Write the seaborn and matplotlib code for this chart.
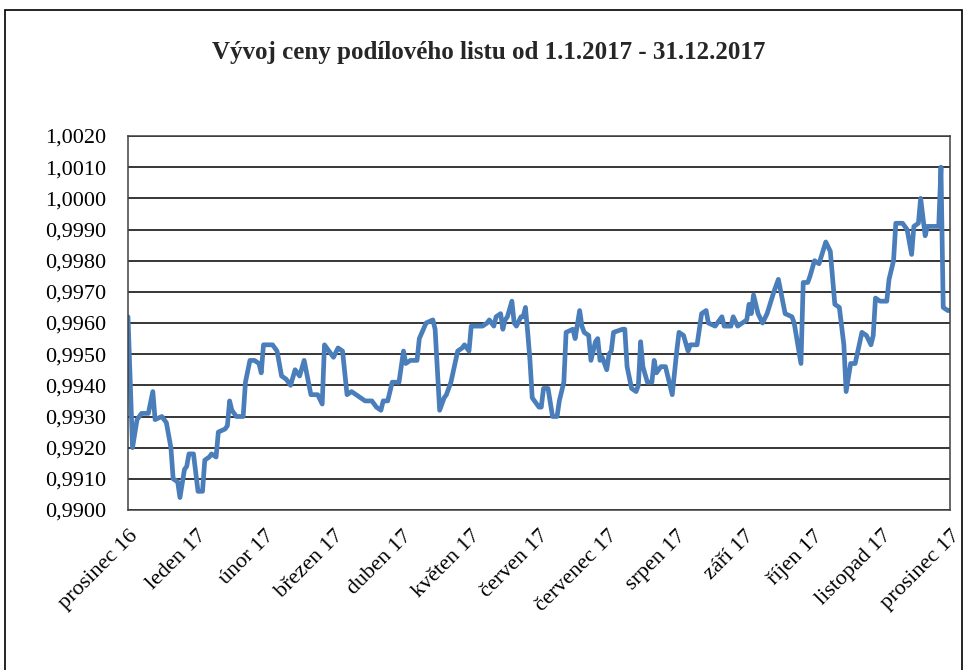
import numpy as np
import pandas as pd
import seaborn as sns
import matplotlib.pyplot as plt
from matplotlib import ticker
from matplotlib.patches import Rectangle

# day of year 2017 (0 = 1.1.2017) and unit price
days = [0, 2, 4, 6, 9, 11, 12, 15, 17, 19, 20, 22, 23, 25, 26, 27, 29, 31, 33, 34,
        36, 37, 39, 40, 43, 44, 45, 46, 48, 51, 52, 54, 56, 58, 59, 60, 64, 66, 68, 70,
        72, 74, 76, 78, 81, 84, 86, 87, 89, 91, 93, 95, 97, 99, 101, 103, 105, 108, 110, 112,
        113, 115, 116, 117, 120, 122, 123, 125, 128, 129, 132, 135, 136, 138, 140, 141, 143, 146, 148, 149,
        151, 152, 155, 157, 159, 160, 162, 163, 165, 166, 167, 168, 170, 171, 172, 174, 175, 176, 177, 178,
        179, 182, 183, 184, 186, 188, 190, 191, 193, 194, 197, 198, 200, 201, 202, 204, 205, 207, 208, 209,
        210, 212, 213, 214, 215, 219, 220, 221, 223, 225, 226, 227, 228, 230, 232, 233, 234, 236, 238, 239,
        241, 243, 244, 246, 248, 249, 252, 254, 256, 257, 260, 263, 264, 267, 268, 270, 272, 274, 275, 276,
        277, 279, 281, 283, 286, 288, 291, 294, 295, 298, 299, 301, 302, 304, 306, 309, 311, 313, 315, 317,
        318, 320, 322, 325, 327, 329, 330, 331, 333, 336, 337, 339, 340, 343, 345, 347, 348, 350, 351, 353,
        354, 359, 360, 361, 363, 364]
price = [0.9962, 0.9920, 0.9929, 0.9931, 0.9931, 0.9938, 0.9929, 0.9930, 0.9928, 0.9920,
         0.9910, 0.9909, 0.9904, 0.9913, 0.9914, 0.9918, 0.9918, 0.9906, 0.9906, 0.9916,
         0.9917, 0.9918, 0.9917, 0.9925, 0.9926, 0.9927, 0.9935, 0.9932, 0.9930, 0.9930,
         0.9941, 0.9948, 0.9948, 0.9947, 0.9944, 0.9953, 0.9953, 0.9951, 0.9943, 0.9942,
         0.9940, 0.9945, 0.9943, 0.9948, 0.9937, 0.9937, 0.9934, 0.9953, 0.9951, 0.9949,
         0.9952, 0.9951, 0.9937, 0.9938, 0.9937, 0.9936, 0.9935, 0.9935, 0.9933, 0.9932,
         0.9935, 0.9935, 0.9938, 0.9941, 0.9941, 0.9951, 0.9947, 0.9948, 0.9948, 0.9955,
         0.9960, 0.9961, 0.9958, 0.9932, 0.9936, 0.9937, 0.9941, 0.9951, 0.9952, 0.9953,
         0.9951, 0.9959, 0.9959, 0.9959, 0.9960, 0.9961, 0.9959, 0.9962, 0.9963, 0.9958,
         0.9961, 0.9962, 0.9967, 0.9960, 0.9959, 0.9962, 0.9962, 0.9965, 0.9957, 0.9948,
         0.9936, 0.9933, 0.9933, 0.9939, 0.9939, 0.9930, 0.9930, 0.9935, 0.9941, 0.9957,
         0.9958, 0.9955, 0.9964, 0.9959, 0.9957, 0.9956, 0.9948, 0.9954, 0.9955, 0.9948,
         0.9949, 0.9945, 0.9950, 0.9951, 0.9957, 0.9958, 0.9958, 0.9946, 0.9939, 0.9938,
         0.9940, 0.9954, 0.9946, 0.9941, 0.9941, 0.9948, 0.9944, 0.9946, 0.9946, 0.9943,
         0.9937, 0.9951, 0.9957, 0.9956, 0.9951, 0.9953, 0.9953, 0.9963, 0.9964, 0.9960,
         0.9959, 0.9962, 0.9959, 0.9959, 0.9962, 0.9959, 0.9960, 0.9961, 0.9966, 0.9963,
         0.9969, 0.9963, 0.9960, 0.9963, 0.9970, 0.9974, 0.9963, 0.9962, 0.9960, 0.9947,
         0.9973, 0.9973, 0.9975, 0.9980, 0.9979, 0.9986, 0.9983, 0.9966, 0.9965, 0.9953,
         0.9938, 0.9947, 0.9947, 0.9957, 0.9956, 0.9953, 0.9956, 0.9968, 0.9967, 0.9967,
         0.9974, 0.9980, 0.9992, 0.9992, 0.9990, 0.9982, 0.9991, 0.9992, 1.0000, 0.9988,
         0.9991, 0.9991, 1.0010, 0.9965, 0.9964, 0.9964]

month_labels = ['prosinec 16', 'leden 17', 'únor 17', 'březen 17', 'duben 17', 'květen 17',
                'červen 17', 'červenec 17', 'srpen 17', 'září 17', 'říjen 17', 'listopad 17',
                'prosinec 17']

df = pd.DataFrame({'day': days, 'price': price})

sns.set_style('white')
plt.rcParams['font.family'] = ['Liberation Serif', 'DejaVu Serif']

fig = plt.figure(figsize=(9.67, 6.7), dpi=100)
ax = fig.add_axes([128/967, 1-510/670, 822/967, 374/670])

sns.lineplot(data=df, x='day', y='price', ax=ax, color='#4A7EBB', linewidth=3.4)

ax.set_xlim(0, 364)
ax.set_ylim(0.9900, 1.0020)
ax.yaxis.set_major_locator(ticker.MultipleLocator(0.001))
ax.yaxis.set_major_formatter(ticker.FuncFormatter(lambda v, p: f'{v:.4f}'.replace('.', ',')))
ax.set_xticks(np.linspace(0, 364, len(month_labels)))
ax.set_xticklabels(month_labels, rotation=45, ha='right', rotation_mode='anchor')
ax.grid(axis='y', color='black', linewidth=1.1)
ax.set_xlabel('')
ax.set_ylabel('')
ax.tick_params(axis='both', length=0, labelsize=16, colors='black')
ax.tick_params(axis='y', pad=16)
ax.tick_params(axis='x', pad=12)
for s in ax.spines.values():
    s.set_color('#404040')
    s.set_linewidth(1.1)

fig.text(489/967, 1-53/670, 'Vývoj ceny podílového listu od 1.1.2017 - 31.12.2017',
         ha='center', va='center', fontsize=18, fontweight='bold')

fig.patches.append(Rectangle((5/967, -0.05), 957/967, 1.05-10/670, transform=fig.transFigure,
                             fill=False, edgecolor='black', linewidth=1.2))

plt.savefig('out.png', dpi=100)
